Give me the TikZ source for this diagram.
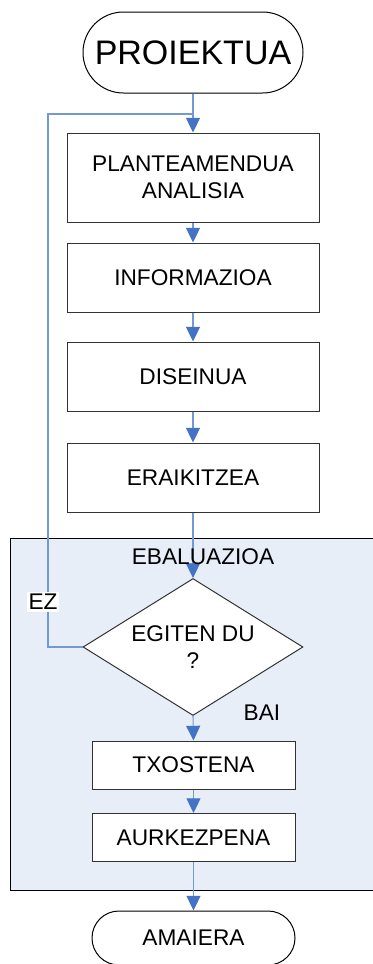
\documentclass[tikz,border=0pt]{standalone}
\usepackage{fontspec}
\setmainfont{Liberation Sans}
\usetikzlibrary{shapes.geometric,arrows.meta}
\definecolor{linkblue}{RGB}{115,152,210}
\definecolor{tipblue}{RGB}{68,114,196}
\definecolor{shadefill}{RGB}{232,238,248}
\begin{document}
\begin{tikzpicture}[x=0.75pt,y=-0.75pt,
  txt/.style={font=\fontsize{17}{20.5}\selectfont, align=center},
  box/.style={txt, draw=black!80, line width=0.75pt, fill=white, minimum width=189pt, inner sep=0pt},
  smallbox/.style={box, minimum width=152.25pt, minimum height=36pt},
  term/.style={txt, draw=black, line width=0.75pt, fill=white, inner sep=0pt},
  flow/.style={draw=linkblue, line width=0.8pt, -{Triangle[length=11pt,width=10.5pt,fill=tipblue,color=tipblue]}},
  loopline/.style={draw=linkblue, line width=0.8pt},
]
\clip (0,0) rectangle (373,964);
\fill[white] (0,0) rectangle (373,964);
% shaded evaluation region
\draw[fill=shadefill, draw=black, line width=0.75pt] (10,538) rectangle (390,890);

\node[term, minimum width=165pt, minimum height=60.75pt, rounded corners=30.3pt,
      font=\fontsize{25.5}{28}\selectfont] (start) at (193,52.5) {PROIEKTUA};
\node[box, minimum height=66.75pt] (plan) at (193,177.5) {PLANTEAMENDUA\\ANALISIA};
\node[box, minimum height=51.75pt] (info) at (193,277.5) {INFORMAZIOA};
\node[box, minimum height=51.75pt] (dis) at (193,376.5) {DISEINUA};
\node[box, minimum height=51.75pt] (erai) at (193,477.5) {ERAIKITZEA};
\node[txt, draw=black!80, line width=0.75pt, fill=white, shape=diamond, aspect=1.6, inner sep=0pt,
      minimum width=165pt, minimum height=102.75pt] (dec) at (193,647) {EGITEN DU\\?};
\node[smallbox] (tx) at (193.5,765) {TXOSTENA};
\node[smallbox] (aur) at (193.5,837.5) {AURKEZPENA};
\node[term, minimum width=152.25pt, minimum height=40.5pt, rounded corners=20.2pt] (end) at (193.5,938) {AMAIERA};

\coordinate (join) at (193,114);
\coordinate (cornerA) at (48,114);
\coordinate (cornerB) at (48,647);

\draw[flow] (start.south) -- (plan.north);
\draw[flow] (plan.south) -- (info.north);
\draw[flow] (info.south) -- (dis.north);
\draw[flow] (dis.south) -- (erai.north);
\draw[flow] (erai.south) -- (dec.north);
\draw[flow] (dec.south) -- (tx.north);
\draw[flow] (tx.south) -- (aur.north);
\draw[flow] (aur.south) -- (end.north);
\draw[loopline] (dec.west) -- (cornerB) -- (cornerA) -- (join);

\node[txt] (ebal) at (203,557) {EBALUAZIOA};
\node[txt, fill=white, inner sep=1.5pt] (ez) at (43,602) {EZ};
\node[txt] (bai) at (262,713) {BAI};
\end{tikzpicture}
\end{document}
